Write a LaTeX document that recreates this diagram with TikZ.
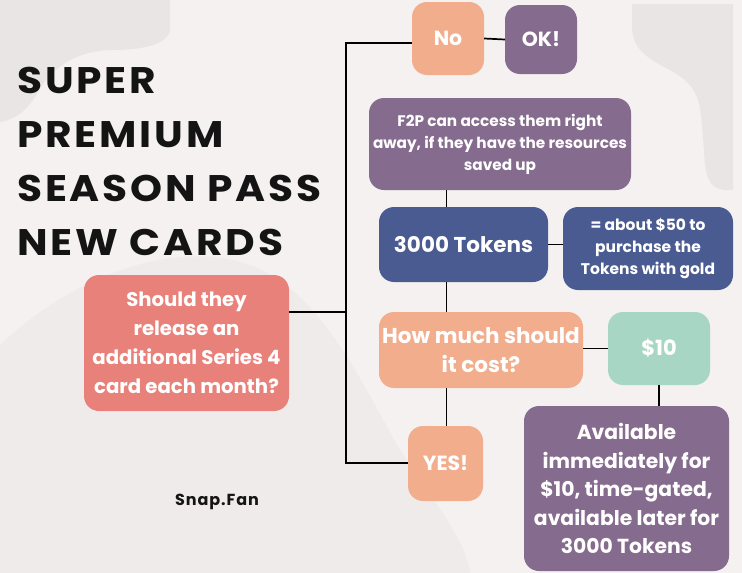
\documentclass[tikz,border=0pt]{standalone}
\usepackage{fontspec}
\setmainfont{Poppins}
\newfontfamily\titlefont{Poppins}[LetterSpace=7]
\newfontfamily\brandfont{Poppins}[LetterSpace=6]
\definecolor{bg}{HTML}{F4F1F0}
\definecolor{blob}{HTML}{EAE5E5}
\definecolor{blobb}{HTML}{EFEBEA}
\definecolor{peach}{HTML}{F2AD8D}
\definecolor{plum}{HTML}{856B8D}
\definecolor{navy}{HTML}{4A5B92}
\definecolor{mint}{HTML}{A8D6C5}
\definecolor{salmon}{HTML}{E8817A}
\definecolor{ink}{HTML}{141414}
\begin{document}
\begin{tikzpicture}[x=1pt,y=-1pt,
  box/.style={rounded corners=15pt, inner sep=2pt, text=white, align=center, font=\bfseries},
  link/.style={line width=1.7pt, black}]
\fill[bg] (0,0) rectangle (742,573);
\useasboundingbox (0,0) rectangle (742,573);
% background blobs
\fill[blobb] (0,345) .. controls (80,270) and (180,240) .. (250,265) .. controls (320,290) and (360,380) .. (400,450) .. controls (440,510) and (465,540) .. (470,573) -- (0,573) -- cycle;
\fill[blob] (0,0) -- (170,0) -- (170,30) .. controls (168,45) and (140,50) .. (113,50) .. controls (75,50) and (50,70) .. (38,92) .. controls (28,110) and (15,120) .. (0,122) -- cycle;
\fill[blob] (632,4) -- (733,4) -- (733,190) .. controls (710,192) and (705,180) .. (704,150) -- (701,115) .. controls (698,85) and (682,76) .. (662,66) .. controls (636,52) and (632,40) .. (632,25) -- cycle;
% title
\node[anchor=north west, align=left, text=ink, xscale=1.1, font=\fontsize{37}{54}\selectfont\titlefont\bfseries, inner sep=0pt] (title) at (17,67)
  {SUPER\\PREMIUM\\SEASON PASS\\NEW CARDS};
\node[text=ink, font=\fontsize{16}{18}\selectfont\brandfont\bfseries, inner sep=0pt] (brand) at (217,502) {Snap.Fan};
% boxes
\node[box, fill=peach, minimum width=72, minimum height=73, font=\fontsize{20.5}{24}\selectfont\bfseries] (no) at (448,38.5) {No};
\node[box, fill=plum, minimum width=72, minimum height=69, font=\fontsize{20.5}{24}\selectfont\bfseries] (ok) at (541,39.5) {OK!};
\node[box, fill=plum, minimum width=262, minimum height=92, font=\fontsize{15.3}{22}\selectfont\bfseries] (f2p) at (500,144)
  {F2P can access them right\\away, if they have the resources\\saved up};
\node[box, fill=navy, minimum width=169, minimum height=75, font=\fontsize{21.5}{24}\selectfont\bfseries] (tok) at (463.5,244.5) {3000 Tokens};
\node[box, fill=navy, minimum width=170, minimum height=83, font=\fontsize{15.5}{22}\selectfont\bfseries] (about) at (648,248.5)
  {= about \$50 to\\purchase the\\Tokens with gold};
\node[box, fill=peach, minimum width=204, minimum height=76, font=\fontsize{21.5}{29}\selectfont\bfseries] (how) at (481,350)
  {How much should\\it cost?};
\node[box, fill=mint, minimum width=102, minimum height=73, font=\fontsize{21}{24}\selectfont\bfseries] (ten) at (659,348.5) {\$10};
\node[box, fill=plum, minimum width=205, minimum height=165, font=\fontsize{20.3}{28.5}\selectfont\bfseries] (avail) at (626.5,488.5)
  {Available\\immediately for\\\$10, time-gated,\\available later for\\3000 Tokens};
\node[box, fill=peach, minimum width=75, minimum height=75, font=\fontsize{20.5}{24}\selectfont\bfseries] (yes) at (445.5,463.5) {YES!};
\node[box, fill=salmon, minimum width=205, minimum height=136, font=\fontsize{19.7}{29}\selectfont\bfseries] (should) at (186.5,343)
  {Should they\\release an\\additional Series 4\\card each month?};
% connectors
\coordinate (jt) at (346,43);
\coordinate (jm) at (346,312);
\coordinate (jb) at (346,463);
\coordinate (cx) at (446.5,0);
\draw[link] (no.west |- jt) -- (jt) -- (jb) -- (yes.west |- jb);
\draw[link] (should.east |- jm) -- (jm);
\draw[link] (no.east) -- (ok.west);
\draw[link] (f2p.south -| cx) -- (tok.north -| cx);
\draw[link] (tok.south -| cx) -- (how.north -| cx);
\draw[link] (how.south -| cx) -- (yes.north -| cx);
\draw[link] (tok.east) -- (about.west |- tok.east);
\draw[link] (how.east |- ten.west) -- (ten.west);
\draw[link] (ten.south) -- (ten.south |- avail.north);
\end{tikzpicture}
\end{document}
